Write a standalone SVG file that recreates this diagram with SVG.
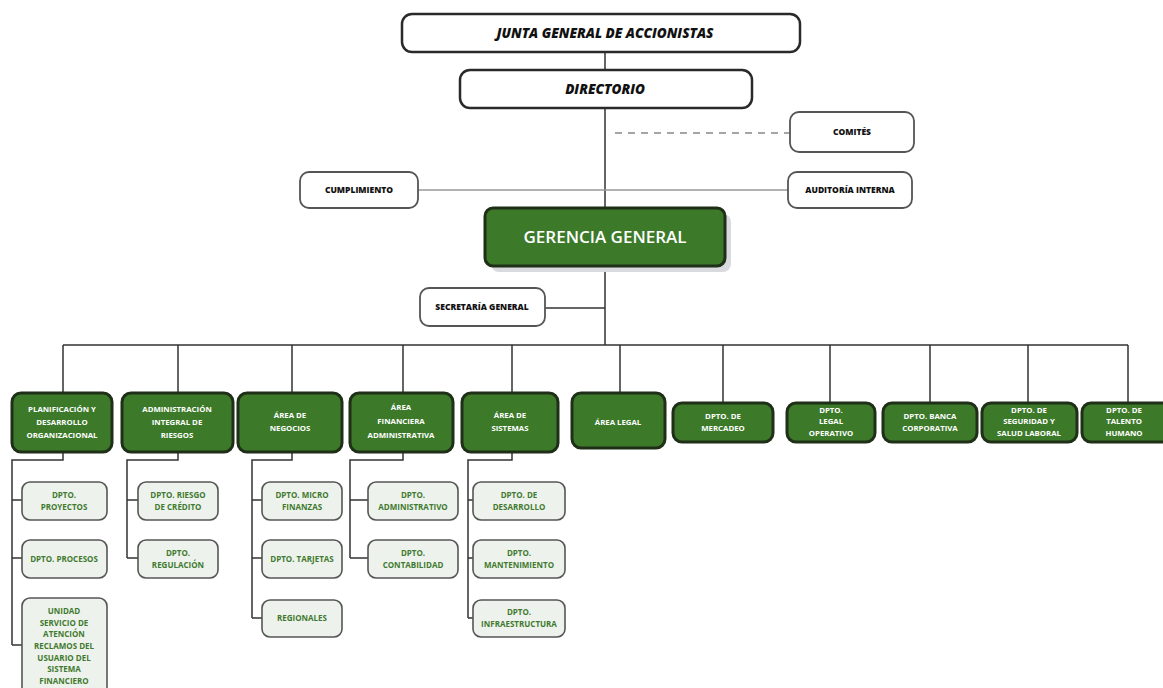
<svg xmlns="http://www.w3.org/2000/svg" width="1163" height="688" viewBox="0 0 1163 688">
<style>
.wb{fill:#fff;stroke:#2a2a2a;stroke-width:2.5}
.wbs{fill:#fff;stroke:#555;stroke-width:1.8}
.gb{fill:#3c7a2a;stroke:#1f2f18;stroke-width:3}
.cb{fill:#eef2ec;stroke:#555;stroke-width:1.6}
.sh{fill:#d8dade}
.t1{font-family:"Open Sans","Liberation Sans",sans-serif;font-weight:800;font-style:italic;font-size:13.5px;fill:#111;text-anchor:middle}
.t2{font-family:"Open Sans","Liberation Sans",sans-serif;font-weight:800;font-size:8.5px;fill:#111;text-anchor:middle}
.tg{font-family:"Open Sans","Liberation Sans",sans-serif;font-weight:700;font-size:7.8px;fill:#fff;text-anchor:middle}
.tc{font-family:"Open Sans","Liberation Sans",sans-serif;font-weight:700;font-size:8px;fill:#3f7a30;text-anchor:middle}
.tgg{font-family:"Open Sans","Liberation Sans",sans-serif;font-weight:600;font-size:17px;fill:#fff;text-anchor:middle}
.ln{fill:none;stroke:#333;stroke-width:1.5}
.lg{fill:none;stroke:#999;stroke-width:1.5}
.ld{fill:none;stroke:#888;stroke-width:1.5;stroke-dasharray:7 6}
</style>
<rect width="1163" height="688" fill="#fff"/>
<g id="connectors">
<path class="ln" d="M605 52V70M605 108V208M605 266V345M545 308H605"/>
<path class="ld" d="M615 133H790"/>
<path class="lg" d="M418 190H788"/>
<path class="ln" d="M63 345H1128M63 345V393M178 345V393M292 345V393M403 345V393M512 345V393M620 345V393M723 345V403M830 345V403M930 345V403M1028 345V403M1128 345V403"/>
<path class="ln" d="M63 452V460H12V645M12 500H22M12 558H22M12 645H22"/>
<path class="ln" d="M178 452V460H127V558M127 500H138M127 558H138"/>
<path class="ln" d="M292 452V460H252V618M252 500H262M252 558H262M252 618H262"/>
<path class="ln" d="M403 452V460H350V558M350 500H368M350 558H368"/>
<path class="ln" d="M512 452V460H468V618M468 500H473M468 558H473M468 618H473"/>
</g>
<g id="junta"><rect class="wb" x="402" y="14" width="398" height="38" rx="10"/><text class="t1" x="605" y="38">JUNTA GENERAL DE ACCIONISTAS</text></g>
<g id="directorio"><rect class="wb" x="460" y="70" width="292" height="38" rx="10"/><text class="t1" x="605" y="94">DIRECTORIO</text></g>
<g id="comites"><rect class="wbs" x="790" y="112" width="124" height="40" rx="9"/><text class="t2" x="852" y="135">COMITÉS</text></g>
<g id="cumplimiento"><rect class="wbs" x="300" y="172" width="118" height="36" rx="9"/><text class="t2" x="359" y="193">CUMPLIMIENTO</text></g>
<g id="auditoria"><rect class="wbs" x="788" y="172" width="124" height="36" rx="9"/><text class="t2" x="850" y="193">AUDITORÍA INTERNA</text></g>
<g id="gerencia"><rect class="sh" x="491" y="214" width="240" height="58" rx="8"/><rect class="gb" x="485" y="208" width="240" height="58" rx="8"/><text class="tgg" x="605" y="243">GERENCIA GENERAL</text></g>
<g id="secretaria"><rect class="wbs" x="420" y="288" width="125" height="38" rx="9"/><text class="t2" x="482" y="310">SECRETARÍA GENERAL</text></g>
<g id="planificacion"><rect class="gb" x="12" y="393" width="100" height="59" rx="9"/><text class="tg" x="62" y="412">PLANIFICACIÓN Y</text><text class="tg" x="62" y="425">DESARROLLO</text><text class="tg" x="62" y="438">ORGANIZACIONAL</text></g>
<g id="riesgos"><rect class="gb" x="122" y="393" width="111" height="59" rx="9"/><text class="tg" x="177" y="412">ADMINISTRACIÓN</text><text class="tg" x="177" y="425">INTEGRAL DE</text><text class="tg" x="177" y="438">RIESGOS</text></g>
<g id="negocios"><rect class="gb" x="238" y="393" width="104" height="59" rx="9"/><text class="tg" x="290" y="418">ÁREA DE</text><text class="tg" x="290" y="431">NEGOCIOS</text></g>
<g id="financiera"><rect class="gb" x="350" y="393" width="103" height="59" rx="9"/><text class="tg" x="401" y="410">ÁREA</text><text class="tg" x="401" y="424">FINANCIERA</text><text class="tg" x="401" y="438">ADMINISTRATIVA</text></g>
<g id="sistemas"><rect class="gb" x="462" y="393" width="96" height="59" rx="9"/><text class="tg" x="510" y="418">ÁREA DE</text><text class="tg" x="510" y="431">SISTEMAS</text></g>
<g id="legal"><rect class="gb" x="572" y="393" width="93" height="55" rx="9"/><text class="tg" x="618" y="425">ÁREA LEGAL</text></g>
<g id="mercadeo"><rect class="gb" x="673" y="403" width="100" height="39" rx="9"/><text class="tg" x="723" y="419">DPTO. DE</text><text class="tg" x="723" y="431">MERCADEO</text></g>
<g id="legaloperativo"><rect class="gb" x="787" y="403" width="88" height="39" rx="9"/><text class="tg" x="831" y="413">DPTO.</text><text class="tg" x="831" y="424">LEGAL</text><text class="tg" x="831" y="436">OPERATIVO</text></g>
<g id="banca"><rect class="gb" x="883" y="403" width="94" height="39" rx="9"/><text class="tg" x="930" y="419">DPTO. BANCA</text><text class="tg" x="930" y="431">CORPORATIVA</text></g>
<g id="seguridad"><rect class="gb" x="982" y="403" width="95" height="39" rx="9"/><text class="tg" x="1029" y="413">DPTO. DE</text><text class="tg" x="1029" y="424">SEGURIDAD Y</text><text class="tg" x="1029" y="436">SALUD LABORAL</text></g>
<g id="talento"><rect class="gb" x="1082" y="403" width="95" height="39" rx="9"/><text class="tg" x="1124" y="413">DPTO. DE</text><text class="tg" x="1124" y="424">TALENTO</text><text class="tg" x="1124" y="436">HUMANO</text></g>
<g id="proyectos"><rect class="cb" x="22" y="482" width="85" height="38" rx="8"/><text class="tc" x="64" y="498">DPTO.</text><text class="tc" x="64" y="510">PROYECTOS</text></g>
<g id="procesos"><rect class="cb" x="22" y="540" width="85" height="38" rx="8"/><text class="tc" x="64" y="562">DPTO. PROCESOS</text></g>
<g id="unidad"><rect class="cb" x="22" y="598" width="85" height="100" rx="8"/><text class="tc" x="64" y="614">UNIDAD</text><text class="tc" x="64" y="626">SERVICIO DE</text><text class="tc" x="64" y="637">ATENCIÓN</text><text class="tc" x="64" y="649">RECLAMOS DEL</text><text class="tc" x="64" y="661">USUARIO DEL</text><text class="tc" x="64" y="672">SISTEMA</text><text class="tc" x="64" y="684">FINANCIERO</text></g>
<g id="riesgocredito"><rect class="cb" x="138" y="482" width="80" height="38" rx="8"/><text class="tc" x="178" y="498">DPTO. RIESGO</text><text class="tc" x="178" y="510">DE CRÉDITO</text></g>
<g id="regulacion"><rect class="cb" x="138" y="540" width="80" height="38" rx="8"/><text class="tc" x="178" y="556">DPTO.</text><text class="tc" x="178" y="568">REGULACIÓN</text></g>
<g id="microfinanzas"><rect class="cb" x="262" y="482" width="80" height="38" rx="8"/><text class="tc" x="302" y="498">DPTO. MICRO</text><text class="tc" x="302" y="510">FINANZAS</text></g>
<g id="tarjetas"><rect class="cb" x="262" y="540" width="80" height="38" rx="8"/><text class="tc" x="302" y="562">DPTO. TARJETAS</text></g>
<g id="regionales"><rect class="cb" x="262" y="600" width="80" height="37" rx="8"/><text class="tc" x="302" y="621">REGIONALES</text></g>
<g id="administrativo"><rect class="cb" x="368" y="482" width="90" height="38" rx="8"/><text class="tc" x="413" y="498">DPTO.</text><text class="tc" x="413" y="510">ADMINISTRATIVO</text></g>
<g id="contabilidad"><rect class="cb" x="368" y="540" width="90" height="38" rx="8"/><text class="tc" x="413" y="556">DPTO.</text><text class="tc" x="413" y="568">CONTABILIDAD</text></g>
<g id="desarrollo"><rect class="cb" x="473" y="482" width="92" height="38" rx="8"/><text class="tc" x="519" y="498">DPTO. DE</text><text class="tc" x="519" y="510">DESARROLLO</text></g>
<g id="mantenimiento"><rect class="cb" x="473" y="540" width="92" height="38" rx="8"/><text class="tc" x="519" y="556">DPTO.</text><text class="tc" x="519" y="568">MANTENIMIENTO</text></g>
<g id="infraestructura"><rect class="cb" x="473" y="600" width="92" height="37" rx="8"/><text class="tc" x="519" y="615">DPTO.</text><text class="tc" x="519" y="627">INFRAESTRUCTURA</text></g>
</svg>
